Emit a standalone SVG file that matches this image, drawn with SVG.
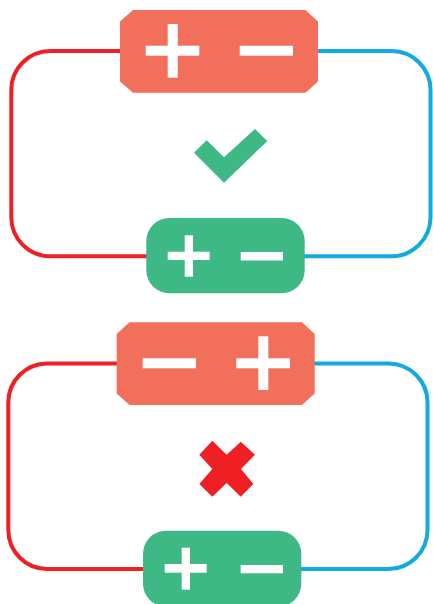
<svg xmlns="http://www.w3.org/2000/svg" width="433" height="604" viewBox="0 0 433 604">
<style>
.r{fill:none;stroke:#ee2024;stroke-width:4}
.b{fill:none;stroke:#13aae2;stroke-width:4}
.o{fill:#f26f5c}
.g{fill:#3eb885}
.w{fill:#fff}
</style>
<rect width="433" height="604" fill="#fff"/>
<g id="connectors">
<path class="r" d="M121 51H50A39 39 0 0 0 11.300 90V217A39 39 0 0 0 50 256.300H147"/>
<path class="b" d="M317 51H391A39 39 0 0 1 430.500 90V217A39 39 0 0 1 391 256.300H304"/>
<path class="r" d="M118 363.500H47A39 39 0 0 0 8.300 402.500V530A39 39 0 0 0 47 569H144"/>
<path class="b" d="M314 363.500H388A39 39 0 0 1 427.500 402.500V530A39 39 0 0 1 388 569H301"/>
</g>
<g id="battery-top"><path class="o" d="M133 10H305.500L318 21.500V81.500L305.500 92.700H133L120 81.500V21.500Z"/>
<rect class="w" x="145.700" y="45.700" width="53.600" height="10"/><rect class="w" x="167.700" y="24" width="10" height="53.700"/><rect class="w" x="239.700" y="45.700" width="53.300" height="10"/></g>
<g id="cell-top"><rect class="g" x="146.300" y="218" width="158.400" height="75.300" rx="23"/>
<rect class="w" x="167.700" y="251.700" width="42" height="8.300"/><rect class="w" x="184.700" y="235.300" width="8.300" height="41.400"/><rect class="w" x="240.700" y="252" width="42.300" height="8.500"/></g>
<g id="check"><path d="M194 152.700L206.700 140.300L224 157.300L255 129L267.300 141L224 182.700Z" fill="#3eb885"/></g>
<g id="battery-bottom"><path class="o" d="M129.500 322.300H302L314.700 334V393.500L302 405H129.500L116.700 393.500V334Z"/>
<rect class="w" x="142.700" y="358.300" width="53.300" height="10"/><rect class="w" x="236.300" y="358.300" width="53.700" height="10"/><rect class="w" x="258.300" y="336.300" width="10" height="53.700"/></g>
<g id="cell-bottom"><rect class="g" x="143" y="530.700" width="158.300" height="76" rx="23"/>
<rect class="w" x="164.700" y="564" width="42" height="8.700"/><rect class="w" x="181.700" y="547.700" width="8.300" height="42"/><rect class="w" x="240.700" y="565" width="42.300" height="8.300"/></g>
<g id="cross"><path d="M199.300 454.700L212.300 440.700L226.700 454.700L240.700 441.700L255 454.700L241 469L253.300 484L240.700 496.700L226.700 483L212.300 496.700L199.300 484L212.300 469Z" fill="#ee2024"/></g>
</svg>
